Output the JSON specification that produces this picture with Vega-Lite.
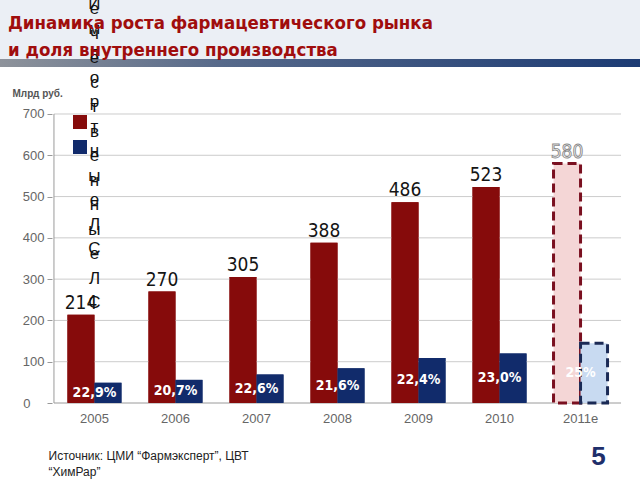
{
  "$schema": "https://vega.github.io/schema/vega-lite/v6.json",
  "width": 640,
  "height": 480,
  "autosize": {"type": "none"},
  "padding": 0,
  "background": "white",
  "config": {"view": {"stroke": null}, "font": "Liberation Sans"},
  "title": {
    "text": ["Динамика роста фармацевтического рынка", "и доля внутреннего производства"],
    "anchor": "start",
    "frame": "group",
    "orient": "top",
    "offset": -77,
    "dy": 46,
    "baseline": "alphabetic",
    "dx": 8,
    "font": "Liberation Sans Narrow, DejaVu Sans Condensed, sans-serif",
    "fontSize": 18.5,
    "fontWeight": "bold",
    "color": "#a00d0d",
    "lineHeight": 27
  },
  "datasets": {
    "bars": [
      {"year": "2005", "series": "Импортные ЛС", "value": 214},
      {"year": "2005", "series": "Отечественные ЛС", "value": 49},
      {"year": "2006", "series": "Импортные ЛС", "value": 270},
      {"year": "2006", "series": "Отечественные ЛС", "value": 56},
      {"year": "2007", "series": "Импортные ЛС", "value": 305},
      {"year": "2007", "series": "Отечественные ЛС", "value": 69},
      {"year": "2008", "series": "Импортные ЛС", "value": 388},
      {"year": "2008", "series": "Отечественные ЛС", "value": 84},
      {"year": "2009", "series": "Импортные ЛС", "value": 486},
      {"year": "2009", "series": "Отечественные ЛС", "value": 109},
      {"year": "2010", "series": "Импортные ЛС", "value": 523},
      {"year": "2010", "series": "Отечественные ЛС", "value": 120},
      {"year": "2011e", "series": "Импортные ЛС", "value": 580},
      {"year": "2011e", "series": "Отечественные ЛС", "value": 145}
    ],
    "labels": [
      {"year": "2005", "total": 214, "domestic": 49, "share": "22,9%"},
      {"year": "2006", "total": 270, "domestic": 56, "share": "20,7%"},
      {"year": "2007", "total": 305, "domestic": 69, "share": "22,6%"},
      {"year": "2008", "total": 388, "domestic": 84, "share": "21,6%"},
      {"year": "2009", "total": 486, "domestic": 109, "share": "22,4%"},
      {"year": "2010", "total": 523, "domestic": 120, "share": "23,0%"},
      {"year": "2011e", "total": 580, "domestic": 145, "share": "25%"}
    ],
    "grid": [{"g": 0}, {"g": 100}, {"g": 200}, {"g": 300}, {"g": 400}, {"g": 500}, {"g": 600}, {"g": 700}]
  },
  "resolve": {"scale": {"y": "independent"}},
  "layer": [
    {
      "layer": [
        {
          "data": {"name": "bars"},
          "transform": [{"filter": "datum.year !== '2011e'"}],
          "mark": {"type": "bar"},
          "encoding": {
            "x": {
              "field": "year", "type": "nominal",
              "scale": {"domain": ["2005", "2006", "2007", "2008", "2009", "2010", "2011e"], "paddingInner": 0, "paddingOuter": 0.45, "align": 0.74},
              "axis": {
                "orient": "bottom", "offset": -77, "domain": false, "ticks": false,
                "labelAngle": 0, "labelPadding": 9, "labelFontSize": 13, "labelColor": "#666666", "labelFont": "Liberation Sans",
                "title": ["Источник: ЦМИ “Фармэксперт”, ЦВТ", "“ХимРар”"],
                "titleX": 48, "titleY": 56, "titleAlign": "left", "titleAnchor": "start", "titleBaseline": "alphabetic",
                "titleFontSize": 12, "titleFontWeight": "normal", "titleColor": "#222222", "titleLineHeight": 16, "titleFont": "Liberation Sans"
              }
            },
            "xOffset": {"field": "series", "type": "nominal", "scale": {"paddingInner": 0, "paddingOuter": 0.5}},
            "y": {
              "field": "value", "type": "quantitative",
              "scale": {"domain": [-186.5, 976.1], "nice": false, "zero": false},
              "axis": {
                "orient": "left", "offset": -52, "domain": false, "grid": false,
                "values": [0, 100, 200, 300, 400, 500, 600, 700],
                "tickSize": 5, "tickColor": "#999999",
                "labelPadding": {"condition": {"test": "datum.value === 0", "value": 17}, "value": 3},
                "labelFontSize": 13, "labelColor": "#666666", "labelFont": "Liberation Sans",
                "title": "Млрд руб.", "titleAngle": 0, "titleX": -40, "titleY": 96, "titleAlign": "left", "titleBaseline": "alphabetic",
                "titleFontSize": 10, "titleFontWeight": "bold", "titleColor": "#555555"
              }
            },
            "y2": {"datum": 0},
            "color": {
              "field": "series", "type": "nominal",
              "scale": {"domain": ["Импортные ЛС", "Отечественные ЛС"], "range": ["#860b0b", "#112b6b"]},
              "legend": {
                "orient": "none", "legendX": 73, "legendY": 115, "title": null,
                "symbolType": "square", "symbolSize": 196, "symbolStrokeWidth": 0, "symbolOpacity": 1,
                "rowPadding": 11, "labelExpr": "''", "padding": 0
              }
            }
          }
        },
        {
          "data": {"values": [{}]},
          "mark": {"type": "rect", "fill": "#ebeff5"},
          "encoding": {
            "y": {"datum": 976.1, "type": "quantitative"},
            "y2": {"datum": 833}
          }
        },
        {
          "data": {"values": [{}]},
          "mark": {"type": "rect", "fill": {"gradient": "linear", "x1": 0, "x2": 1, "y1": 0, "y2": 0, "stops": [{"offset": 0, "color": "#8e939b"}, {"offset": 0.35, "color": "#56698a"}, {"offset": 1, "color": "#1c3b74"}]}},
          "encoding": {
            "y": {"datum": 833, "type": "quantitative"},
            "y2": {"datum": 814}
          }
        },
        {
          "data": {"name": "grid"},
          "mark": {"type": "rule", "strokeWidth": 1},
          "encoding": {
            "y": {"field": "g", "type": "quantitative"},
            "x": {"datum": "2005", "type": "nominal", "bandPosition": 0},
            "x2": {"datum": "2011e", "bandPosition": 1},
            "color": {"condition": {"test": "datum.g === 0", "value": "#9a9a9a"}, "value": "#cccccc"}
          }
        },
        {
          "data": {"values": [{}]},
          "mark": {"type": "rule", "color": "#9a9a9a", "strokeWidth": 1},
          "encoding": {
            "x": {"datum": "2005", "type": "nominal", "bandPosition": 0},
            "y": {"datum": 0, "type": "quantitative"},
            "y2": {"datum": 700}
          }
        },
        {
          "data": {"name": "bars"},
          "transform": [{"filter": "datum.year !== '2011e'"}],
          "mark": {"type": "bar"},
          "encoding": {
            "x": {"field": "year", "type": "nominal"},
            "xOffset": {"field": "series", "type": "nominal"},
            "y": {"field": "value", "type": "quantitative"},
            "y2": {"datum": 0},
            "color": {"field": "series", "type": "nominal"}
          }
        },
        {
          "data": {"name": "bars"},
          "transform": [{"filter": "datum.year === '2011e'"}],
          "mark": {"type": "bar", "strokeWidth": 3, "strokeDash": [9, 5]},
          "encoding": {
            "x": {"field": "year", "type": "nominal"},
            "xOffset": {"field": "series", "type": "nominal"},
            "y": {"field": "value", "type": "quantitative"},
            "y2": {"datum": 0},
            "fill": {"field": "series", "type": "nominal", "scale": {"domain": ["Импортные ЛС", "Отечественные ЛС"], "range": ["#f4d6d6", "#c8daf1"]}, "legend": null},
            "stroke": {"field": "series", "type": "nominal", "scale": {"domain": ["Импортные ЛС", "Отечественные ЛС"], "range": ["#7a1020", "#1b2a55"]}, "legend": null}
          }
        },
        {
          "data": {"name": "labels"},
          "transform": [{"filter": "datum.year !== '2011e'"}],
          "mark": {"type": "text", "baseline": "bottom", "dy": -2, "font": "Liberation Sans Narrow, DejaVu Sans Condensed, sans-serif", "fontSize": 19, "color": "#151515"},
          "encoding": {
            "x": {"field": "year", "type": "nominal"},
            "xOffset": {"datum": "Импортные ЛС", "type": "nominal"},
            "y": {"field": "total", "type": "quantitative"},
            "text": {"field": "total"}
          }
        },
        {
          "data": {"name": "labels"},
          "transform": [{"filter": "datum.year === '2011e'"}],
          "mark": {"type": "text", "baseline": "bottom", "dy": -2, "font": "Liberation Sans Narrow, DejaVu Sans Condensed, sans-serif", "fontSize": 19, "fill": "white", "stroke": "#8a8a8a", "strokeWidth": 0.9},
          "encoding": {
            "x": {"field": "year", "type": "nominal"},
            "xOffset": {"datum": "Импортные ЛС", "type": "nominal"},
            "y": {"field": "total", "type": "quantitative"},
            "text": {"field": "total"}
          }
        },
        {
          "data": {"values": [{"label": "И\nм\nп\nо\nр\nт\nн\nы\nе\n \nЛ\nС"}]},
          "mark": {"type": "text", "baseline": "middle", "lineBreak": "\n", "lineHeight": 24.5, "fontSize": 17, "font": "Liberation Sans", "color": "#111111"},
          "encoding": {
            "x": {"datum": "2005", "type": "nominal"},
            "y": {"datum": 966, "type": "quantitative"},
            "text": {"field": "label"}
          }
        },
        {
          "data": {"values": [{"label": "О\nт\nе\nч\nе\nс\nт\nв\nе\nн\nн\nы\nе\n \nЛ\nС"}]},
          "mark": {"type": "text", "baseline": "middle", "lineBreak": "\n", "lineHeight": 24.5, "fontSize": 17, "font": "Liberation Sans", "color": "#111111"},
          "encoding": {
            "x": {"datum": "2005", "type": "nominal"},
            "y": {"datum": 1071.8, "type": "quantitative"},
            "text": {"field": "label"}
          }
        },
        {
          "data": {"values": [{"page": "5"}]},
          "mark": {"type": "text", "baseline": "alphabetic", "align": "center", "fontSize": 26, "fontWeight": "bold", "font": "Liberation Sans", "color": "#1f2f6b"},
          "encoding": {
            "x": {"datum": "2011e", "type": "nominal", "bandPosition": 0.72},
            "y": {"datum": -150, "type": "quantitative"},
            "text": {"field": "page"}
          }
        }
      ]
    },
    {
      "data": {"name": "labels"},
      "mark": {"type": "text", "baseline": "middle", "font": "Liberation Sans Narrow, DejaVu Sans Condensed, sans-serif", "fontSize": 14, "fontWeight": "bold", "color": "white"},
      "encoding": {
        "x": {"field": "year", "type": "nominal"},
        "y": {"field": "domestic", "type": "quantitative", "scale": {"domain": [-373, 1952.2], "nice": false, "zero": false}, "axis": null},
        "text": {"field": "share"}
      }
    }
  ]
}
